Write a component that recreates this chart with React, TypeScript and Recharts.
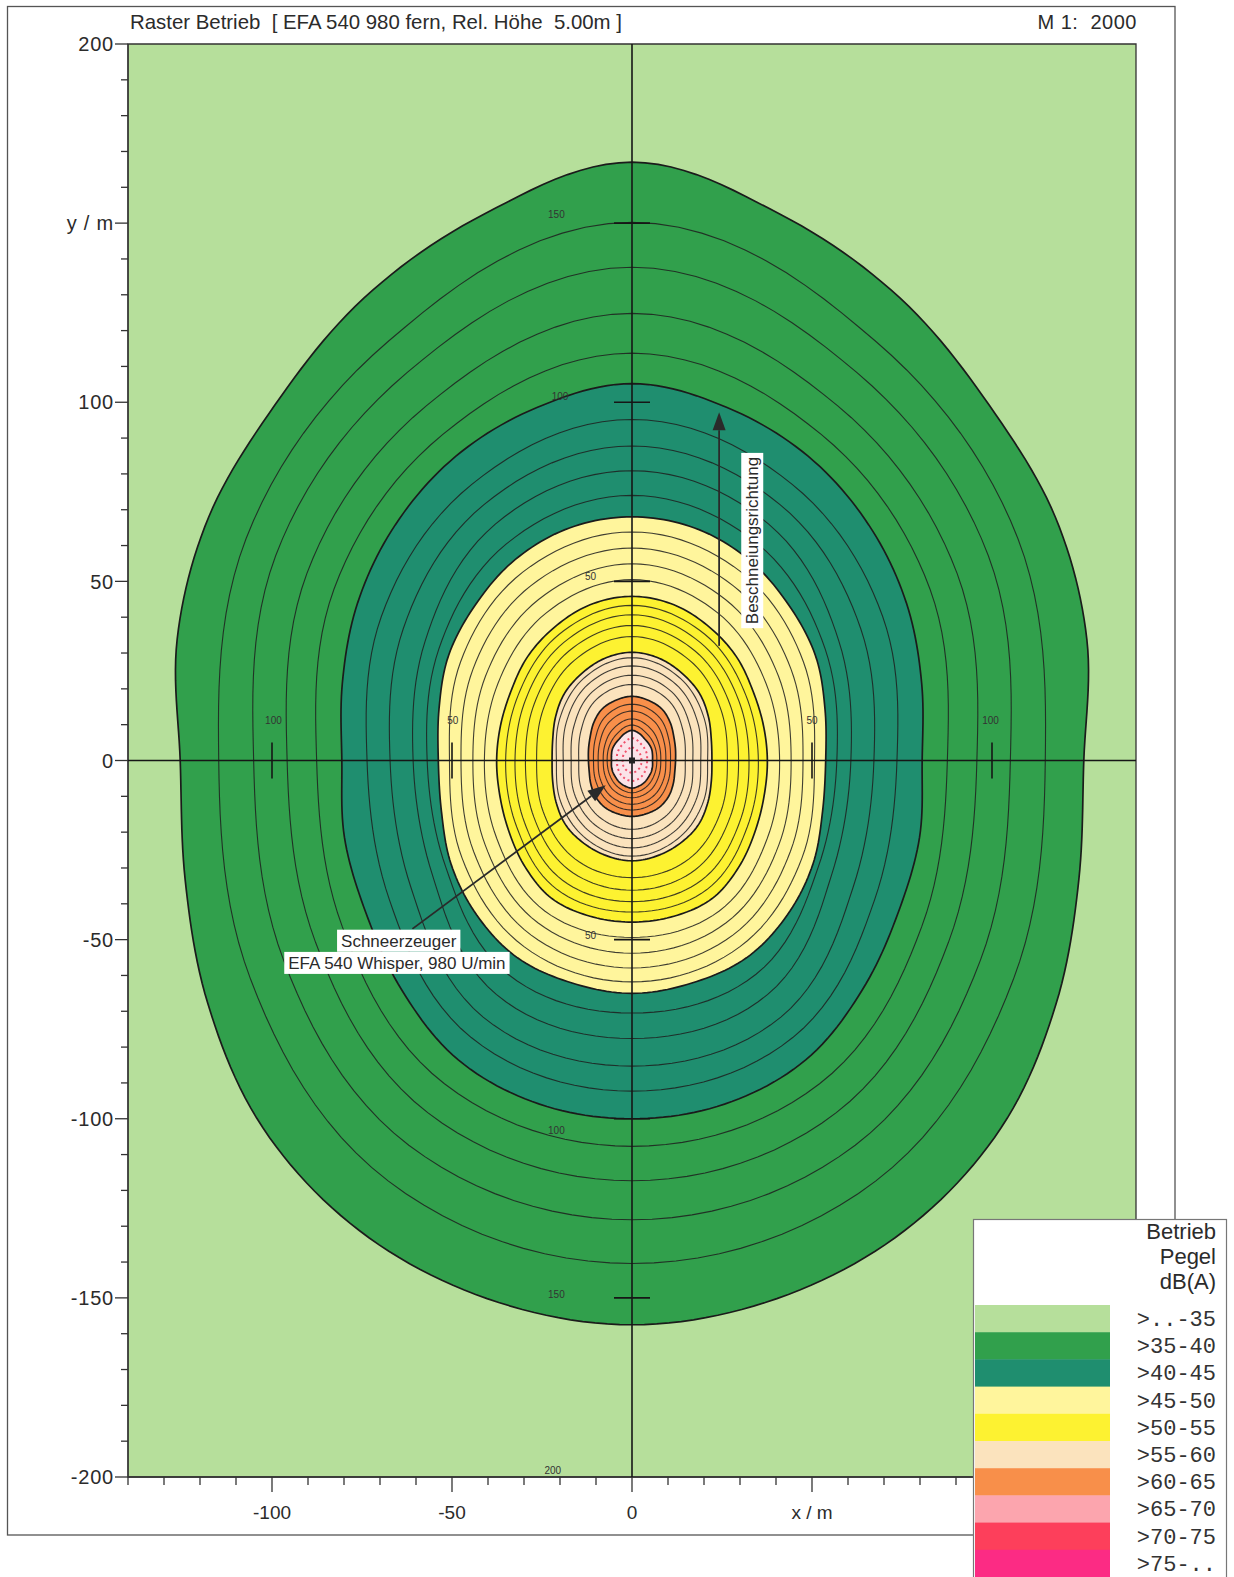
import React, { useLayoutEffect, useRef, useState } from 'react'
import { ScatterChart, Scatter, XAxis, YAxis, CartesianGrid, ReferenceArea } from 'recharts'

const SANS = "'Liberation Sans', Arial, sans-serif"
const MONO = "'Liberation Mono', 'Courier New', monospace"

const LEVEL_LABELS = ['>..-35', '>35-40', '>40-45', '>45-50', '>50-55', '>55-60', '>60-65', '>65-70', '>70-75', '>75-..']
const LEVEL_COLORS = ['#b6df9b', '#31a04c', '#1f8e6f', '#fff59c', '#fdf231', '#fbe3bd', '#f88f4a', '#fca5ae', '#fd3f5b', '#fc2b84']

// radius (m) of each contour, right half, from north (90) round to south (-90)
const BOUNDARY_ANGLES = [90, 75, 60, 45, 30, 15, 0, -15, -30, -45, -60, -75, -90]
const STEP_ANGLES = [90, 60, 30, 0, -30, -60, -90]

// 5 dB band boundaries (bold lines)
const B35 = [167, 158, 149, 140.3, 135.8, 130.8, 125.5, 128.5, 136, 145, 151.5, 155.5, 157.5]
const B40 = [105.2, 102, 98, 93, 88, 83.3, 80.6, 82.7, 85.3, 90.5, 96.5, 99.3, 100]
const B45 = [68, 67.2, 64.8, 61.5, 58.8, 55.5, 53.8, 54.8, 58, 61, 63.6, 64.3, 65]
const B50 = [45.8, 45, 43, 41, 38.8, 37.8, 37.6, 38, 39.5, 42, 44.5, 45, 45.1]
const B55 = [30.2, 29.5, 28, 26.5, 24.5, 22.8, 22.2, 22.8, 24.2, 25.8, 26.7, 27.5, 28]
const B60 = [17.9, 17.4, 16.6, 15, 13.4, 12.5, 12.1, 12.3, 13.2, 14.3, 15.1, 15.4, 15.6]
const B65 = [8.4, 7.8, 7, 6.6, 6.3, 5.9, 5.7, 5.9, 6.2, 6.5, 7, 7.4, 7.7]

// 1 dB steps inside each band (thin lines), outer to inner
const S35 = [
  [150.2, 135.2, 123.8, 114.8, 122.3, 135.5, 140.4],
  [137.7, 125, 114.3, 105.1, 111.7, 124, 128.2],
  [124.8, 114.3, 104.3, 95.8, 101.5, 113.5, 117.3],
  [113.7, 105.1, 95.6, 87.6, 92.9, 104.2, 107.7],
]
const S40 = [
  [95.2, 89, 80.4, 73.6, 77.8, 89.3, 92.3],
  [87.8, 82.4, 73.4, 67.2, 70.9, 82.7, 85.3],
  [80.9, 76.1, 66.4, 60.8, 64, 75.4, 77.6],
  [74, 69.8, 62, 56.9, 59.7, 68.9, 70.5],
]
const S45 = [
  [63.8, 60.7, 55, 50.7, 54.5, 60, 61.8],
  [59.3, 56.3, 51, 47.5, 50.8, 56.2, 57.9],
  [54.9, 51.9, 47, 44.2, 47.1, 52.3, 53.8],
  [50.5, 47.6, 43, 41, 43.4, 48.5, 49.4],
]
const S50 = [
  [43.3, 40.6, 36.5, 35.1, 37, 41.6, 42.3],
  [40.7, 38, 34.1, 32.5, 34.5, 38.6, 39.4],
  [37.7, 35.2, 31.4, 29.6, 31.5, 35.2, 36.2],
  [34.6, 32.2, 28.5, 26.5, 28.5, 31.7, 32.7],
]
const S55 = [
  [28.7, 26.6, 23.2, 21, 22.9, 25.3, 26.7],
  [26.4, 24.5, 21.1, 19.1, 20.8, 23.1, 24.4],
  [23.8, 22.1, 18.7, 16.9, 18.5, 20.7, 21.8],
  [21.2, 19.7, 16.4, 14.8, 16.2, 18.2, 19.2],
]
const S60 = [
  [15.7, 14.4, 11.8, 10.7, 11.6, 13.2, 13.8],
  [13.8, 12.5, 10.3, 9.4, 10.2, 11.6, 12.2],
  [11.6, 10.3, 8.7, 8, 8.6, 9.8, 10.4],
  [9.9, 8.5, 7.4, 6.9, 7.3, 8.3, 9],
]
// speckled rings close to the source (70 / 75 dB)
const S70 = [
  [6.2, 5.2, 4.6, 4.2, 4.5, 5.2, 5.7],
  [3.6, 3.1, 2.8, 2.6, 2.8, 3.1, 3.4],
]

const BANDS = [
  { edge: B35, steps: S35, color: LEVEL_COLORS[1] },
  { edge: B40, steps: S40, color: LEVEL_COLORS[2] },
  { edge: B45, steps: S45, color: LEVEL_COLORS[3] },
  { edge: B50, steps: S50, color: LEVEL_COLORS[4] },
  { edge: B55, steps: S55, color: LEVEL_COLORS[5] },
  { edge: B60, steps: S60, color: LEVEL_COLORS[6] },
  { edge: B65, steps: [], color: '#fbe3e8' },
]

// axes
const X_TICKS = [-140, -130, -120, -110, -100, -90, -80, -70, -60, -50, -40, -30, -20, -10, 0, 10, 20, 30, 40, 50, 60, 70, 80, 90, 100, 110, 120, 130, 140]
const Y_TICKS = [-200, -190, -180, -170, -160, -150, -140, -130, -120, -110, -100, -90, -80, -70, -60, -50, -40, -30, -20, -10, 0, 10, 20, 30, 40, 50, 60, 70, 80, 90, 100, 110, 120, 130, 140, 150, 160, 170, 180, 190, 200]
const X_LABELS: Record<string, string> = { '-100': '-100', '-50': '-50', '0': '0', '50': 'x / m', '100': '100' }
const Y_LABELS: Record<string, string> = { '200': '200', '150': 'y / m', '100': '100', '50': '50', '0': '0', '-50': '-50', '-100': '-100', '-150': '-150', '-200': '-200' }

// distance marks on the cross axes
const Y_MARKS = [150, 100, 50, -50, -100, -150]
const X_MARKS = [-100, -50, 50, 100]
const MARK_NOTES = [
  { x: -21, y: 152.5, t: '150' }, { x: -20, y: 101.5, t: '100' }, { x: -11.5, y: 51.5, t: '50' },
  { x: -11.5, y: -48.8, t: '50' }, { x: -21, y: -103.3, t: '100' }, { x: -21, y: -149, t: '150' },
  { x: -22, y: -198.3, t: '200' },
  { x: -99.6, y: 11.3, t: '100' }, { x: -49.8, y: 11.3, t: '50' }, { x: 50, y: 11.3, t: '50' }, { x: 99.6, y: 11.3, t: '100' },
]

const SOURCE = [{ x: 0, y: 0 }]
const ARROWS = [
  [{ x: -61, y: -47 }, { x: -7.3, y: -6.9 }],
  [{ x: 24.2, y: 32 }, { x: 24.2, y: 97.2 }],
]
const NOTES = [
  { x: -64.8, y: -50.3, t: 'Schneerzeuger', rot: 0 },
  { x: -65.3, y: -56.5, t: 'EFA 540 Whisper, 980 U/min', rot: 0 },
  { x: 33.4, y: 61.4, t: 'Beschneiungsrichtung', rot: -90 },
]

type P = { x: number; y: number }

// source point first, then the ring (right half, mirrored for the left half)
const toPoints = (radii: number[], angles: number[]): P[] => {
  const half = radii.map((r, i) => {
    const a = (angles[i] * Math.PI) / 180
    return { x: r * Math.cos(a), y: r * Math.sin(a) }
  })
  const mirror = half.slice(1, -1).reverse().map(p => ({ x: -p.x, y: p.y }))
  return [{ x: 0, y: 0 }, ...half, ...mirror]
}

// smooth closed ring: catmull-rom on radius vs angle around the pixel source point
const ringPath = (pts: P[]) => {
  const [c, ...ring] = pts
  const n = ring.length
  const pol = ring.map(p => ({ a: Math.atan2(c.y - p.y, p.x - c.x), r: Math.hypot(p.x - c.x, p.y - c.y) }))
  let d = ''
  for (let i = 0; i < n; i++) {
    const q0 = pol[(i - 1 + n) % n], q1 = pol[i], q2 = pol[(i + 1) % n], q3 = pol[(i + 2) % n]
    let da = q2.a - q1.a
    while (da > Math.PI) da -= 2 * Math.PI
    while (da < -Math.PI) da += 2 * Math.PI
    for (let k = 0; k < 12; k++) {
      const t = k / 12
      const r = 0.5 * (2 * q1.r + (q2.r - q0.r) * t + (2 * q0.r - 5 * q1.r + 4 * q2.r - q3.r) * t * t + (3 * q1.r - q0.r - 3 * q2.r + q3.r) * t * t * t)
      const a = q1.a + da * t
      d += `${d ? 'L' : 'M'}${(c.x + r * Math.cos(a)).toFixed(2)},${(c.y - r * Math.sin(a)).toFixed(2)}`
    }
  }
  return d + 'Z'
}

const Empty = () => <g />

const XTick = (p: any) => {
  const label = X_LABELS[String(p.payload.value)]
  const major = label !== undefined
  return (
    <g>
      <line x1={p.x} x2={p.x} y1={p.y} y2={p.y + (major ? 15 : 8)} stroke="#333" strokeWidth={1.3} />
      {major && <text x={p.x} y={p.y + 42} textAnchor="middle" fontSize={19} fill="#2b2b2b" fontFamily={SANS}>{label}</text>}
    </g>
  )
}

const YTick = (p: any) => {
  const label = Y_LABELS[String(p.payload.value)]
  const major = label !== undefined
  return (
    <g>
      <line x1={p.x - (major ? 13 : 7)} x2={p.x} y1={p.y} y2={p.y} stroke="#333" strokeWidth={1.3} />
      {major && <text x={p.x - 14} y={p.y} dy="0.36em" textAnchor="end" fontSize={20} letterSpacing={0.8} fill="#2b2b2b" fontFamily={SANS}>{label}</text>}
    </g>
  )
}

function BoxedText({ cx, cy, text, rot }: { cx: number; cy: number; text: string; rot: number }) {
  const ref = useRef<SVGTextElement>(null)
  const [w, setW] = useState(0)
  useLayoutEffect(() => {
    if (ref.current) setW(ref.current.getComputedTextLength())
  }, [text])
  return (
    <g transform={`translate(${cx},${cy}) rotate(${rot})`}>
      {w > 0 && <rect x={-w / 2 - 4} y={-11} width={w + 8} height={22} fill="#fff" />}
      <text ref={ref} x={0} y={0} dy="0.36em" textAnchor="middle" fontSize={17} fill="#2a2a2a" fontFamily={SANS}>{text}</text>
    </g>
  )
}

const arrowLine = (props: any) => {
  const [a, b] = props.points as P[]
  const dx = b.x - a.x, dy = b.y - a.y
  const len = Math.hypot(dx, dy)
  const ux = dx / len, uy = dy / len
  const hl = 18, hw = 6.5
  const bx = b.x - ux * hl, by = b.y - uy * hl
  return (
    <g>
      <line x1={a.x} y1={a.y} x2={bx} y2={by} stroke="#2a2a2a" strokeWidth={1.8} />
      <polygon points={`${b.x},${b.y} ${bx - uy * hw},${by + ux * hw} ${bx + uy * hw},${by - ux * hw}`} fill="#2a2a2a" />
    </g>
  )
}

export default function App() {
  const contours: React.ReactNode[] = []
  BANDS.forEach((band, bi) => {
    contours.push(
      <Scatter key={`b${bi}`} data={toPoints(band.edge, BOUNDARY_ANGLES)} isAnimationActive={false} shape={Empty} legendType="none"
        line={(p: any) => <path d={ringPath(p.points)} fill={band.color} stroke="#1b1b1b" strokeWidth={1.7} />} />
    )
    band.steps.forEach((radii, si) => {
      contours.push(
        <Scatter key={`s${bi}-${si}`} data={toPoints(radii, STEP_ANGLES)} isAnimationActive={false} shape={Empty} legendType="none"
          line={(p: any) => <path d={ringPath(p.points)} fill="none" stroke="#1e1e1e" strokeOpacity={0.85} strokeWidth={1.1} />} />
      )
    })
  })
  S70.forEach((radii, si) => {
    contours.push(
      <Scatter key={`r${si}`} data={toPoints(radii, STEP_ANGLES)} isAnimationActive={false} shape={Empty} legendType="none"
        line={(p: any) => <path d={ringPath(p.points)} fill="none" stroke="#f0506a" strokeWidth={2} strokeDasharray="2 3" />} />
    )
  })

  const straight = (p: any) => {
    const [a, b] = p.points as P[]
    return <line x1={a.x} y1={a.y} x2={b.x} y2={b.y} stroke="#161616" strokeWidth={1.6} />
  }

  return (
    <div style={{ position: 'absolute', left: 0, top: 0, width: 1234, height: 1577, background: '#fff', overflow: 'hidden' }}>
      <svg width={1234} height={1577} style={{ position: 'absolute', left: 0, top: 0 }}>
        <rect x={7.5} y={6.5} width={1167.5} height={1528.5} fill="none" stroke="#555" strokeWidth={1.3} />
        <text x={130} y={29} fontSize={20.4} fill="#2b2b2b" fontFamily={SANS} style={{ whiteSpace: 'pre' }}>
          {'Raster Betrieb  [ EFA 540 980 fern, Rel. Höhe  5.00m ]'}
        </text>
        <text x={1137} y={29} textAnchor="end" fontSize={20} letterSpacing={0.5} fill="#2b2b2b" fontFamily={SANS} style={{ whiteSpace: 'pre' }}>
          {'M 1:  2000'}
        </text>
      </svg>
      <div style={{ position: 'absolute', left: 0, top: 0 }}>
        <ScatterChart width={1234} height={1577} margin={{ top: 44, right: 98, bottom: 60, left: 68 }}>
          <CartesianGrid fill={LEVEL_COLORS[0]} horizontal={false} vertical={false} />
          <XAxis type="number" dataKey="x" domain={[-140, 140]} ticks={X_TICKS} interval={0} allowDataOverflow
            height={40} tickSize={0} tickMargin={0} tickLine={false} axisLine={{ stroke: '#333', strokeWidth: 1.3 }} tick={<XTick />} />
          <YAxis type="number" dataKey="y" domain={[-200, 200]} ticks={Y_TICKS} interval={0} allowDataOverflow
            width={60} tickSize={0} tickMargin={0} tickLine={false} axisLine={{ stroke: '#333', strokeWidth: 1.3 }} tick={<YTick />} />
          {contours}
          <Scatter data={[{ x: -140, y: 0 }, { x: 140, y: 0 }]} isAnimationActive={false} shape={Empty} line={straight} legendType="none" />
          <Scatter data={[{ x: 0, y: -200 }, { x: 0, y: 200 }]} isAnimationActive={false} shape={Empty} line={straight} legendType="none" />
          <Scatter data={SOURCE} isAnimationActive={false} legendType="none"
            shape={(p: any) => <rect x={p.cx - 3} y={p.cy - 3} width={6} height={6} fill="#222" />} />
          {Y_MARKS.map(v => (
            <Scatter key={`ym${v}`} data={[{ x: -5, y: v }, { x: 5, y: v }]} isAnimationActive={false} shape={Empty} line={straight} legendType="none" />
          ))}
          {X_MARKS.map(v => (
            <Scatter key={`xm${v}`} data={[{ x: v, y: -5 }, { x: v, y: 5 }]} isAnimationActive={false} shape={Empty} line={straight} legendType="none" />
          ))}
          <Scatter data={MARK_NOTES} isAnimationActive={false} legendType="none"
            shape={(p: any) => <text x={p.cx} y={p.cy} dy="0.35em" textAnchor="middle" fontSize={10} fill="#333" fontFamily={SANS}>{p.payload.t}</text>} />
          {ARROWS.map((a, i) => (
            <Scatter key={`ar${i}`} data={a} isAnimationActive={false} shape={Empty} line={arrowLine} legendType="none" />
          ))}
          <Scatter data={NOTES} isAnimationActive={false} legendType="none"
            shape={(p: any) => <BoxedText cx={p.cx} cy={p.cy} text={p.payload.t} rot={p.payload.rot} />} />
          <ReferenceArea x1={-140} x2={140} y1={-200} y2={200} fill="none" fillOpacity={0} stroke="#333" strokeWidth={1.3} />
        </ScatterChart>
      </div>
      <svg width={1234} height={1577} style={{ position: 'absolute', left: 0, top: 0, pointerEvents: 'none' }}>
        <rect x={973.5} y={1219.5} width={253} height={370} fill="#fff" stroke="#777" strokeWidth={1.2} />
        {['Betrieb', 'Pegel', 'dB(A)'].map((t, i) => (
          <text key={t} x={1216} y={1239 + i * 25} textAnchor="end" fontSize={22} fill="#2b2b2b" fontFamily={SANS}>{t}</text>
        ))}
        {LEVEL_LABELS.map((t, i) => (
          <g key={t}>
            <rect x={975} y={1305 + i * 27.2} width={135} height={27.6} fill={LEVEL_COLORS[i]} />
            <text x={1216} y={1305 + i * 27.2 + 21} textAnchor="end" fontSize={22} fill="#333" fontFamily={MONO}>{t}</text>
          </g>
        ))}
      </svg>
    </div>
  )
}
